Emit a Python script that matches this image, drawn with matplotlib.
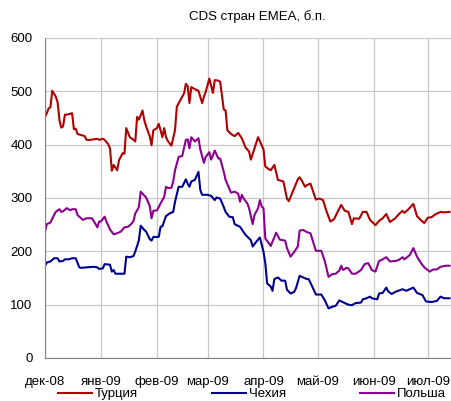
import pandas as pd
import matplotlib.pyplot as plt

plt.rcParams['font.family'] = ['Liberation Sans', 'DejaVu Sans']

# Турция
turkey_dates = ['2008-12-01', '2008-12-02', '2008-12-03', '2008-12-04', '2008-12-05', '2008-12-07',
                '2008-12-08', '2008-12-09', '2008-12-10', '2008-12-11', '2008-12-12', '2008-12-14',
                '2008-12-16', '2008-12-17', '2008-12-18', '2008-12-19', '2008-12-21', '2008-12-23',
                '2008-12-24', '2008-12-26', '2008-12-30', '2008-12-31', '2009-01-02', '2009-01-03',
                '2009-01-05', '2009-01-06', '2009-01-07', '2009-01-08', '2009-01-10', '2009-01-11',
                '2009-01-13', '2009-01-14', '2009-01-15', '2009-01-17', '2009-01-19', '2009-01-20',
                '2009-01-21', '2009-01-22', '2009-01-24', '2009-01-25', '2009-01-26', '2009-01-28',
                '2009-01-29', '2009-01-30', '2009-02-01', '2009-02-02', '2009-02-03', '2009-02-04',
                '2009-02-05', '2009-02-06', '2009-02-07', '2009-02-09', '2009-02-11', '2009-02-12',
                '2009-02-14', '2009-02-16', '2009-02-17', '2009-02-18', '2009-02-19', '2009-02-20',
                '2009-02-22', '2009-02-24', '2009-02-26', '2009-02-27', '2009-02-28', '2009-03-02',
                '2009-03-04', '2009-03-05', '2009-03-07', '2009-03-08', '2009-03-10', '2009-03-11',
                '2009-03-12', '2009-03-14', '2009-03-16', '2009-03-18', '2009-03-20', '2009-03-22',
                '2009-03-24', '2009-03-25', '2009-03-27', '2009-03-29', '2009-04-01', '2009-04-02',
                '2009-04-04', '2009-04-05', '2009-04-07', '2009-04-09', '2009-04-12', '2009-04-14',
                '2009-04-15', '2009-04-20', '2009-04-21', '2009-04-22', '2009-04-24', '2009-04-25',
                '2009-04-27', '2009-04-30', '2009-05-02', '2009-05-04', '2009-05-06', '2009-05-08',
                '2009-05-10', '2009-05-14', '2009-05-16', '2009-05-18', '2009-05-20', '2009-05-21',
                '2009-05-24', '2009-05-26', '2009-05-28', '2009-05-30', '2009-06-02', '2009-06-04',
                '2009-06-06', '2009-06-08', '2009-06-10', '2009-06-13', '2009-06-15', '2009-06-17',
                '2009-06-18', '2009-06-20', '2009-06-23', '2009-06-25', '2009-06-27', '2009-06-29',
                '2009-07-01', '2009-07-03', '2009-07-05', '2009-07-08', '2009-07-10', '2009-07-13']
turkey = [452, 459, 468, 470, 501, 490, 479, 446, 432, 434, 456, 457,
          459, 429, 430, 420, 418, 416, 409, 409, 411, 409, 411, 409,
          401, 393, 351, 362, 352, 371, 384, 383, 431, 414, 409, 406,
          452, 447, 464, 446, 434, 416, 399, 427, 431, 439, 427, 414,
          431, 414, 407, 398, 427, 471, 484, 496, 514, 510, 478, 508,
          504, 501, 478, 490, 499, 524, 497, 521, 520, 518, 466, 464,
          427, 420, 416, 422, 412, 395, 387, 372, 393, 414, 391, 359,
          354, 352, 362, 334, 331, 299, 294, 335, 339, 334, 321, 324,
          327, 297, 299, 296, 274, 256, 260, 287, 276, 274, 251, 262,
          261, 274, 274, 259, 249, 257, 262, 270, 255, 262, 270, 276,
          272, 278, 289, 266, 259, 253, 263, 264, 269, 274, 273, 274]

# Чехия
czech_dates = ['2008-12-01', '2008-12-02', '2008-12-04', '2008-12-06', '2008-12-08', '2008-12-09',
               '2008-12-11', '2008-12-12', '2008-12-14', '2008-12-16', '2008-12-18', '2008-12-20',
               '2008-12-21', '2008-12-24', '2008-12-28', '2008-12-30', '2008-12-31', '2009-01-02',
               '2009-01-03', '2009-01-06', '2009-01-07', '2009-01-08', '2009-01-09', '2009-01-11',
               '2009-01-14', '2009-01-15', '2009-01-17', '2009-01-19', '2009-01-20', '2009-01-21',
               '2009-01-22', '2009-01-23', '2009-01-25', '2009-01-26', '2009-01-28', '2009-01-29',
               '2009-01-30', '2009-02-02', '2009-02-03', '2009-02-04', '2009-02-06', '2009-02-08',
               '2009-02-10', '2009-02-11', '2009-02-13', '2009-02-15', '2009-02-17', '2009-02-18',
               '2009-02-19', '2009-02-20', '2009-02-22', '2009-02-24', '2009-02-25', '2009-02-26',
               '2009-03-01', '2009-03-03', '2009-03-05', '2009-03-06', '2009-03-08', '2009-03-10',
               '2009-03-11', '2009-03-13', '2009-03-15', '2009-03-16', '2009-03-19', '2009-03-20',
               '2009-03-22', '2009-03-25', '2009-03-26', '2009-03-28', '2009-03-30', '2009-04-01',
               '2009-04-02', '2009-04-03', '2009-04-05', '2009-04-06', '2009-04-07', '2009-04-09',
               '2009-04-11', '2009-04-13', '2009-04-14', '2009-04-16', '2009-04-18', '2009-04-19',
               '2009-04-21', '2009-04-23', '2009-04-25', '2009-04-26', '2009-04-28', '2009-04-30',
               '2009-05-03', '2009-05-05', '2009-05-07', '2009-05-09', '2009-05-11', '2009-05-13',
               '2009-05-16', '2009-05-18', '2009-05-20', '2009-05-22', '2009-05-25', '2009-05-26',
               '2009-05-28', '2009-05-30', '2009-05-31', '2009-06-03', '2009-06-04', '2009-06-06',
               '2009-06-08', '2009-06-09', '2009-06-11', '2009-06-13', '2009-06-17', '2009-06-19',
               '2009-06-21', '2009-06-23', '2009-06-25', '2009-06-28', '2009-06-30', '2009-07-03',
               '2009-07-06', '2009-07-08', '2009-07-10', '2009-07-13']
czech = [173, 179, 181, 187, 187, 181, 182, 185, 185, 187, 187, 170,
         169, 170, 171, 170, 167, 168, 176, 175, 162, 165, 158, 158,
         158, 190, 189, 191, 200, 210, 221, 248, 240, 237, 223, 220,
         227, 227, 246, 247, 266, 271, 274, 293, 321, 321, 335, 327,
         321, 331, 334, 349, 315, 306, 306, 304, 296, 301, 299, 283,
         274, 265, 264, 251, 246, 241, 231, 221, 209, 218, 226, 199,
         178, 140, 134, 126, 148, 151, 145, 145, 128, 121, 124, 131,
         154, 151, 148, 148, 134, 119, 119, 108, 93, 96, 98, 108,
         103, 100, 99, 103, 104, 110, 112, 115, 112, 110, 121, 122,
         132, 125, 120, 124, 129, 126, 129, 132, 122, 118, 106, 105,
         107, 115, 112, 112]

# Польша
poland_dates = ['2008-12-01', '2008-12-02', '2008-12-04', '2008-12-06', '2008-12-07', '2008-12-09',
                '2008-12-10', '2008-12-11', '2008-12-13', '2008-12-15', '2008-12-16', '2008-12-18',
                '2008-12-19', '2008-12-21', '2008-12-22', '2008-12-24', '2008-12-27', '2008-12-29',
                '2008-12-30', '2008-12-31', '2009-01-01', '2009-01-03', '2009-01-04', '2009-01-06',
                '2009-01-08', '2009-01-10', '2009-01-12', '2009-01-14', '2009-01-16', '2009-01-18',
                '2009-01-19', '2009-01-20', '2009-01-22', '2009-01-23', '2009-01-24', '2009-01-26',
                '2009-01-28', '2009-01-29', '2009-01-30', '2009-02-01', '2009-02-02', '2009-02-03',
                '2009-02-05', '2009-02-06', '2009-02-07', '2009-02-09', '2009-02-10', '2009-02-11',
                '2009-02-13', '2009-02-15', '2009-02-17', '2009-02-18', '2009-02-19', '2009-02-20',
                '2009-02-22', '2009-02-24', '2009-02-25', '2009-02-27', '2009-02-28', '2009-03-02',
                '2009-03-03', '2009-03-05', '2009-03-07', '2009-03-08', '2009-03-10', '2009-03-11',
                '2009-03-13', '2009-03-14', '2009-03-16', '2009-03-18', '2009-03-19', '2009-03-20',
                '2009-03-21', '2009-03-23', '2009-03-24', '2009-03-26', '2009-03-27', '2009-03-29',
                '2009-03-30', '2009-03-31', '2009-04-01', '2009-04-02', '2009-04-04', '2009-04-05',
                '2009-04-07', '2009-04-08', '2009-04-10', '2009-04-13', '2009-04-14', '2009-04-16',
                '2009-04-18', '2009-04-20', '2009-04-21', '2009-04-23', '2009-04-25', '2009-04-27',
                '2009-04-30', '2009-05-03', '2009-05-05', '2009-05-07', '2009-05-09', '2009-05-11',
                '2009-05-13', '2009-05-14', '2009-05-15', '2009-05-17', '2009-05-18', '2009-05-20',
                '2009-05-22', '2009-05-25', '2009-05-27', '2009-05-29', '2009-05-31', '2009-06-02',
                '2009-06-04', '2009-06-06', '2009-06-08', '2009-06-10', '2009-06-13', '2009-06-15',
                '2009-06-17', '2009-06-18', '2009-06-21', '2009-06-23', '2009-06-25', '2009-06-27',
                '2009-06-29', '2009-07-02', '2009-07-04', '2009-07-06', '2009-07-08', '2009-07-11',
                '2009-07-13']
poland = [237, 251, 254, 268, 274, 279, 274, 275, 281, 277, 279, 279,
          268, 262, 259, 262, 262, 251, 245, 256, 256, 265, 256, 241,
          232, 234, 237, 245, 246, 252, 257, 271, 283, 312, 308, 301,
          285, 262, 276, 277, 283, 290, 302, 321, 319, 319, 331, 352,
          377, 379, 409, 410, 393, 414, 406, 412, 391, 366, 377, 386,
          372, 389, 374, 374, 349, 334, 318, 310, 312, 308, 293, 306,
          299, 290, 281, 251, 268, 281, 296, 284, 281, 224, 215, 210,
          227, 235, 222, 220, 206, 190, 199, 209, 239, 240, 236, 234,
          201, 201, 181, 152, 157, 158, 164, 173, 165, 169, 168, 158,
          158, 165, 176, 178, 165, 162, 182, 185, 189, 181, 182, 184,
          189, 185, 193, 206, 190, 179, 170, 162, 166, 166, 171, 173,
          173]

month_labels = ['дек-08', 'янв-09', 'фев-09', 'мар-09', 'апр-09', 'май-09', 'июн-09', 'июл-09']

fig = plt.figure(figsize=(4.51, 4.01), dpi=100)
ax = fig.add_axes([45 / 451, 43 / 401, 1 - 45 / 451, 320 / 401])

ax.plot(pd.to_datetime(turkey_dates), turkey, color='#B00000', lw=1.5, label='Турция')
ax.plot(pd.to_datetime(czech_dates), czech, color='#000090', lw=1.5, label='Чехия')
ax.plot(pd.to_datetime(poland_dates), poland, color='#8C0090', lw=1.5, label='Польша')

ax.set_xlim(pd.Timestamp('2008-12-01'), pd.Timestamp('2009-07-13 20:00'))
ax.set_ylim(0, 600)
ax.set_yticks(range(0, 601, 100))
ax.set_xticks(pd.date_range('2008-12-01', '2009-07-01', freq='MS'))
ax.set_xticklabels(month_labels)
ax.grid(True, color='#C8C8C8', lw=0.9)
ax.set_axisbelow(True)
ax.tick_params(length=0, labelsize=9.5, colors='#000000')
ax.tick_params(axis='x', pad=13)
ax.tick_params(axis='y', pad=9)
for s in ['top', 'right']:
    ax.spines[s].set_visible(False)
ax.spines['left'].set_color('#808080')
ax.spines['bottom'].set_color('#808080')

fig.text(257 / 451, 1 - 17 / 401, 'CDS стран EMEA, б.п.', ha='center', va='center', fontsize=9.5)

fig.legend(loc='upper left', bbox_to_anchor=(58 / 451, 1 - 388 / 401), ncol=3, frameon=False,
           fontsize=9.5, handlelength=2.6, handletextpad=0.2, columnspacing=5.6,
           borderpad=0, borderaxespad=0)

fig.savefig('out.png', dpi=100)
